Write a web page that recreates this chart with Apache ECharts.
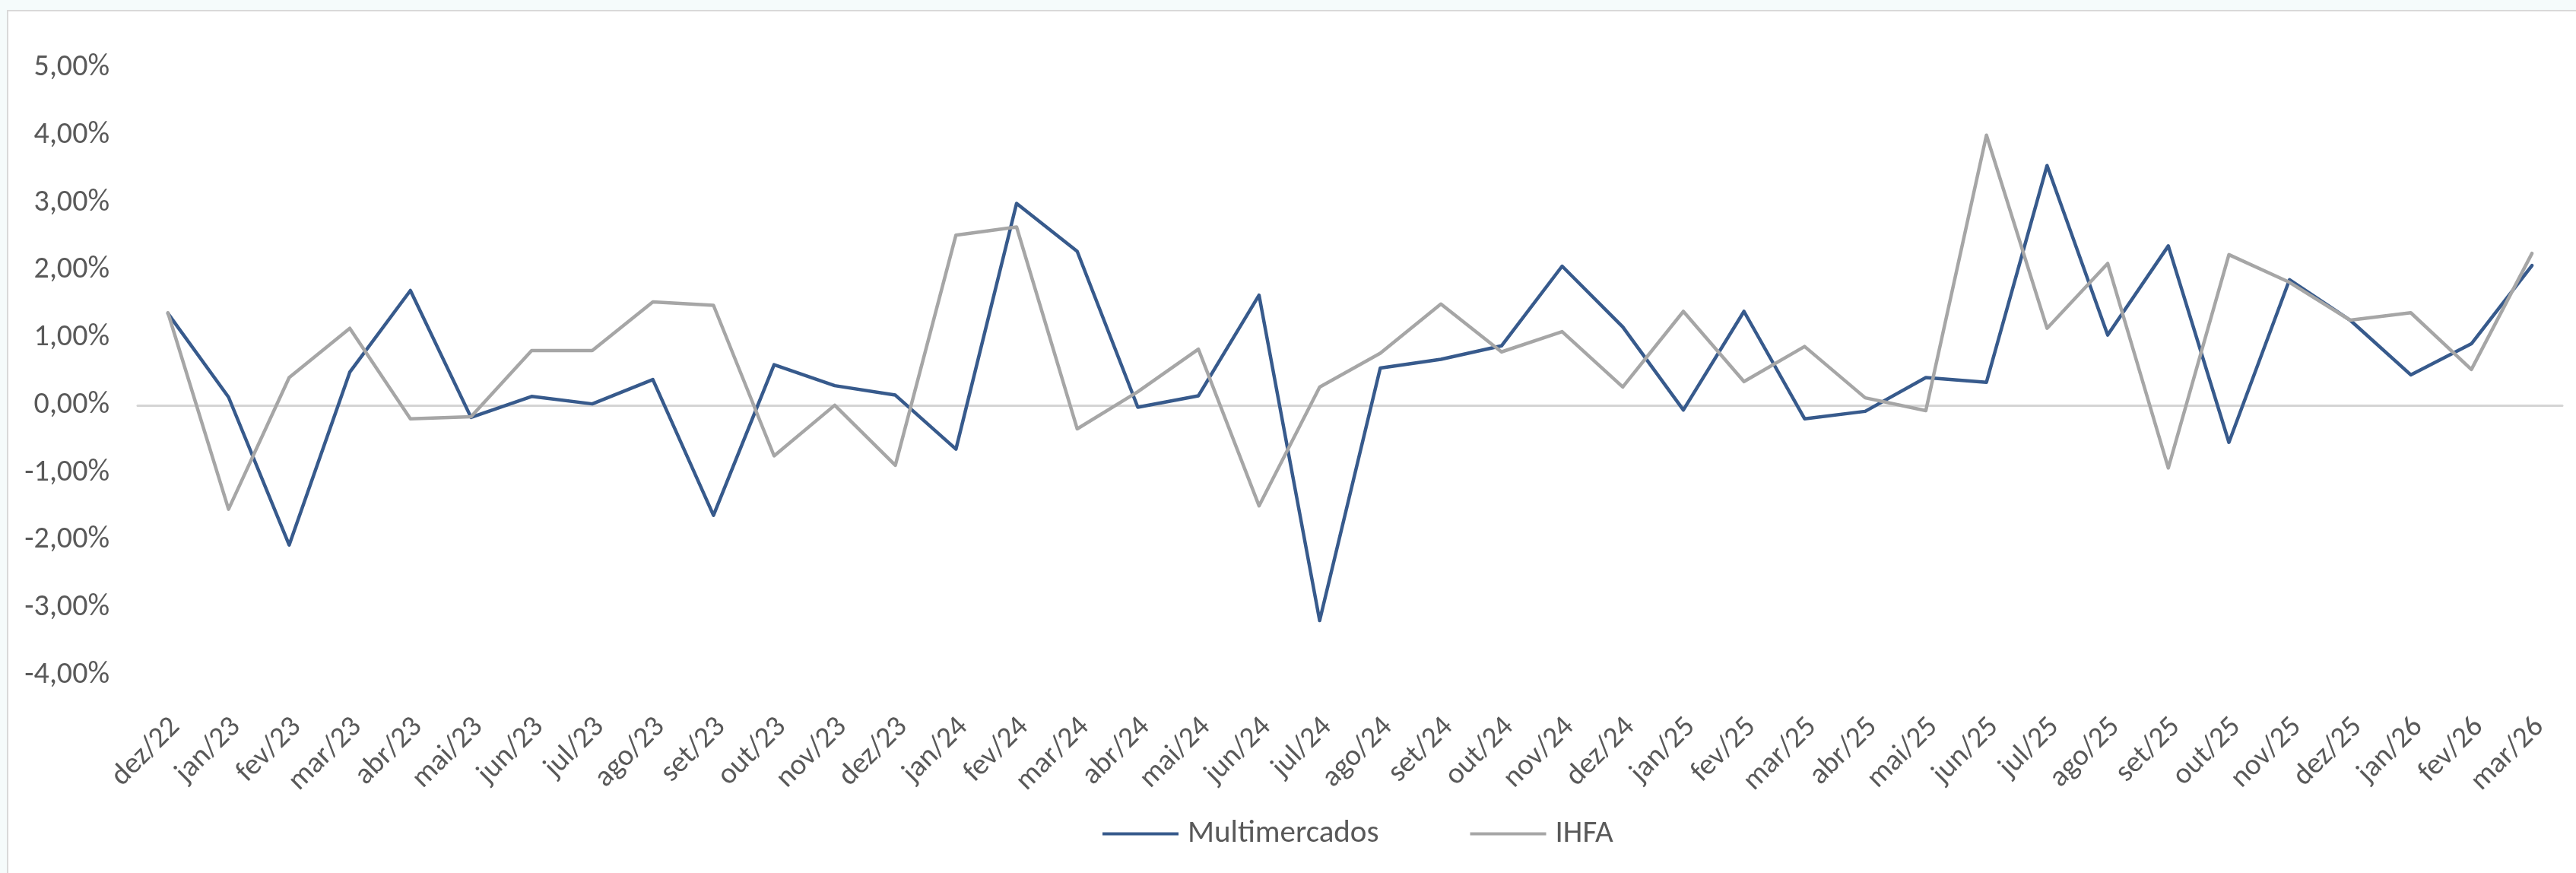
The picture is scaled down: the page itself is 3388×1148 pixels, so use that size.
<!DOCTYPE html>
<html>
<head>
<meta charset="utf-8">
<script src="https://cdn.jsdelivr.net/npm/echarts@6/dist/echarts.min.js"></script>
<style>
  html, body { margin: 0; padding: 0; background: #f5fbfb; }
  #chart { position: absolute; left: 0; top: 0; width: 3388px; height: 1148px; }
</style>
</head>
<body>
<div id="chart"></div>
<script>
const categories = ['dez/22','jan/23','fev/23','mar/23','abr/23','mai/23','jun/23','jul/23','ago/23','set/23','out/23','nov/23','dez/23','jan/24','fev/24','mar/24','abr/24','mai/24','jun/24','jul/24','ago/24','set/24','out/24','nov/24','dez/24','jan/25','fev/25','mar/25','abr/25','mai/25','jun/25','jul/25','ago/25','set/25','out/25','nov/25','dez/25','jan/26','fev/26','mar/26'];
const multimercados = [1.36, 0.12, -2.07, 0.49, 1.70, -0.18, 0.13, 0.02, 0.38, -1.63, 0.60, 0.29, 0.15, -0.65, 2.99, 2.28, -0.03, 0.14, 1.63, -3.19, 0.55, 0.68, 0.88, 2.06, 1.16, -0.07, 1.39, -0.20, -0.09, 0.41, 0.34, 3.55, 1.04, 2.36, -0.55, 1.86, 1.26, 0.45, 0.91, 2.07];
const ihfa = [1.37, -1.54, 0.41, 1.14, -0.20, -0.17, 0.81, 0.81, 1.53, 1.48, -0.75, 0.00, -0.89, 2.52, 2.64, -0.35, 0.20, 0.83, -1.49, 0.27, 0.77, 1.50, 0.79, 1.09, 0.27, 1.39, 0.35, 0.87, 0.11, -0.08, 4.00, 1.14, 2.10, -0.93, 2.23, 1.82, 1.26, 1.37, 0.53, 2.25];
const seriesNames = ['Multimercados', 'IHFA'];
const yMin = -4, yMax = 5, yStep = 1;

const FONT = 'Carlito, Calibri, Lato, sans-serif';
const TXT = '#595959';
const BLUE = '#375a8c';
const GRAY = '#a6a6a6';

const chart = echarts.init(document.getElementById('chart'), null, { renderer: 'canvas' });
chart.setOption({
  backgroundColor: 'transparent',
  animation: false,
  graphic: [{
    type: 'rect', z: -10, silent: true,
    shape: { x: 10, y: 14, width: 3500, height: 1300 },
    style: { fill: '#ffffff', stroke: '#d9d9d9', lineWidth: 2 }
  }],
  grid: { left: 181, right: 18, top: 89, bottom: 260, containLabel: false },
  legend: {
    left: 1445, top: 1071,
    itemWidth: 100, itemHeight: 4, itemGap: 120,
    icon: 'rect',
    textStyle: { fontFamily: FONT, fontSize: 41, color: TXT, padding: [0, 0, 0, 7] },
    data: seriesNames
  },
  xAxis: [{
    type: 'category', data: categories, boundaryGap: true,
    axisLine: { show: true, onZero: true, lineStyle: { color: '#d4d4d4', width: 3 } },
    axisTick: { show: false }, axisLabel: { show: false }, splitLine: { show: false }
  }, {
    type: 'category', data: categories, boundaryGap: true, position: 'bottom',
    axisLine: { show: false, onZero: false }, axisTick: { show: false }, splitLine: { show: false },
    axisLabel: { show: true, interval: 0, rotate: 45, margin: 72, padding: [0, -14, 0, 0], fontFamily: FONT, fontSize: 39, color: TXT }
  }],
  yAxis: {
    type: 'value', min: yMin, max: yMax, interval: yStep,
    axisLine: { show: false }, axisTick: { show: false }, splitLine: { show: false },
    axisLabel: {
      margin: 37, fontFamily: FONT, fontSize: 40, color: TXT,
      formatter: v => v.toFixed(2).replace('.', ',') + '%'
    }
  },
  series: [{
    name: seriesNames[0], type: 'line', data: multimercados, xAxisIndex: 0,
    symbol: 'none', showSymbol: false, color: BLUE,
    lineStyle: { color: BLUE, width: 4.5, join: 'round', cap: 'round' }
  }, {
    name: seriesNames[1], type: 'line', data: ihfa, xAxisIndex: 0,
    symbol: 'none', showSymbol: false, color: GRAY,
    lineStyle: { color: GRAY, width: 4.5, join: 'round', cap: 'round' }
  }]
});
</script>
</body>
</html>
